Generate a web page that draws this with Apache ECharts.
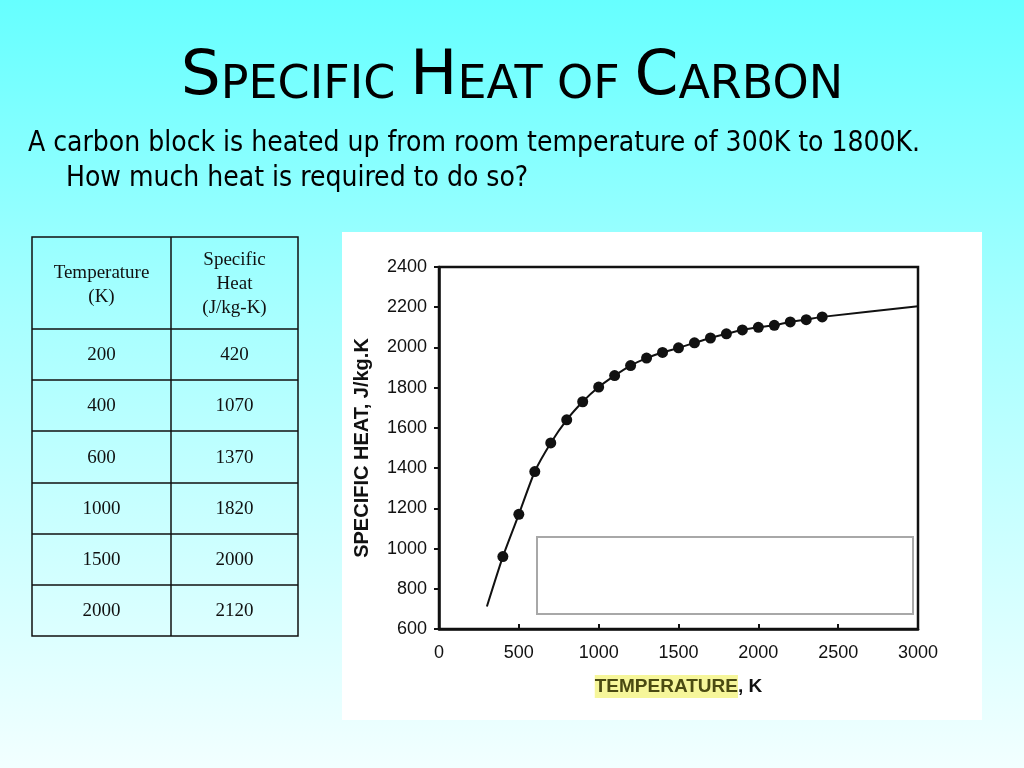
<!DOCTYPE html>
<html><head><meta charset="utf-8">
<script src="https://cdn.jsdelivr.net/npm/echarts@6/dist/echarts.min.js"></script>
<style>
html,body{margin:0;padding:0;}
#c{width:1024px;height:768px;background:linear-gradient(180deg,#66ffff 0%,#a6ffff 40%,#f2ffff 100%);}
</style></head>
<body><div id="c"></div>
<script>
// ---- data ----
var tableTemps = [200, 400, 600, 1000, 1500, 2000];
var tableHeats = [420, 1070, 1370, 1820, 2000, 2120];
var dotTemps = [400,500,600,700,800,900,1000,1100,1200,1300,1400,1500,1600,1700,1800,1900,2000,2100,2200,2300,2400];
var dotHeats = [960,1170,1383,1525,1640,1730,1803,1860,1910,1947,1975,1998,2023,2047,2068,2087,2100,2110,2127,2138,2152];
var curveStart = [300, 712];
var curveEnd = [3000, 2205];
var xTicks = [0, 500, 1000, 1500, 2000, 2500, 3000];
var yTicks = [600, 800, 1000, 1200, 1400, 1600, 1800, 2000, 2200, 2400];

var dots = dotTemps.map(function(t, i){ return [t, dotHeats[i]]; });
var curve = [curveStart].concat(dots).concat([curveEnd]);

// ---- table graphics ----
var colX = [32, 171, 298];
var rowY = [237, 329, 380, 431, 483, 534, 585, 636];
var tbl = [];
var serif = "'Liberation Serif','Times New Roman',serif";
var tf = '19px ' + serif;
tbl.push({type:'rect', shape:{x:colX[0], y:rowY[0], width:colX[2]-colX[0], height:rowY[rowY.length-1]-rowY[0]},
  style:{fill:'none', stroke:'#111', lineWidth:1.5}});
tbl.push({type:'line', shape:{x1:colX[1], y1:rowY[0], x2:colX[1], y2:rowY[rowY.length-1]}, style:{stroke:'#111', lineWidth:1.5}});
for (var r = 1; r < rowY.length-1; r++) {
  tbl.push({type:'line', shape:{x1:colX[0], y1:rowY[r], x2:colX[2], y2:rowY[r]}, style:{stroke:'#111', lineWidth:1.5}});
}
tbl.push({type:'text', x:(colX[0]+colX[1])/2, y:285,
  style:{text:'Temperature\n(K)', font:tf, fill:'#111', align:'center', verticalAlign:'middle', lineHeight:24}});
tbl.push({type:'text', x:(colX[1]+colX[2])/2, y:284,
  style:{text:'Specific\nHeat\n(J/kg-K)', font:tf, fill:'#111', align:'center', verticalAlign:'middle', lineHeight:24}});
for (var i = 0; i < tableTemps.length; i++) {
  var cy = (rowY[i+1] + rowY[i+2]) / 2 + 1;
  tbl.push({type:'text', x:(colX[0]+colX[1])/2, y:cy, style:{text:String(tableTemps[i]), font:tf, fill:'#111', align:'center', verticalAlign:'middle'}});
  tbl.push({type:'text', x:(colX[1]+colX[2])/2, y:cy, style:{text:String(tableHeats[i]), font:tf, fill:'#111', align:'center', verticalAlign:'middle'}});
}

var tfont = "'DejaVu Sans Condensed','DejaVu Sans',sans-serif";
var hfont = "'DejaVu Sans',sans-serif";
var chart = echarts.init(document.getElementById('c'), null, {renderer:'canvas'});
var sans = "'Liberation Sans',Arial,sans-serif";
function plain(v){ return String(v); }
chart.setOption({
  animation:false,
  backgroundColor:'transparent',
  title:{
    left:'center', top:41,
    text:'{b|S}{s|PECIFIC }{b|H}{s|EAT OF }{b|C}{s|ARBON}',
    textStyle:{fontWeight:'normal', rich:{
      b:{fontFamily:hfont, fontWeight:'normal', fontSize:63, color:'#000', verticalAlign:'bottom'},
      s:{fontFamily:hfont, fontWeight:'normal', fontSize:46, color:'#000', verticalAlign:'bottom'}
    }}
  },
  graphic:[
    {type:'rect', z:-10, shape:{x:342, y:232, width:640, height:488}, style:{fill:'#ffffff'}},
    {type:'text', left:28, top:130, style:{text:'A carbon block is heated up from room temperature of 300K to 1800K.', font:'28px '+tfont, fill:'#000'}},
    {type:'text', left:66, top:165, style:{text:'How much heat is required to do so?', font:'28px '+tfont, fill:'#000'}},
    {type:'group', children:tbl},
    {type:'rect', z:100, shape:{x:537, y:537, width:376, height:77}, style:{fill:'#ffffff', stroke:'#a8a8a8', lineWidth:2}}
  ],
  grid:{left:439, right:106, top:267, bottom:139, show:true, borderColor:'#111', borderWidth:2.5, backgroundColor:'transparent'},
  xAxis:{
    type:'value', min:0, max:3000, interval:500,
    axisLine:{show:true, lineStyle:{color:'#111', width:2.5}},
    axisTick:{show:true, inside:true, length:5, lineStyle:{color:'#111', width:2}},
    axisLabel:{color:'#111', fontFamily:sans, fontSize:18, margin:15, formatter:plain},
    splitLine:{show:false},
    name:'{h|TEMPERATURE}{k|, K}', nameLocation:'middle', nameGap:46,
    nameTextStyle:{rich:{
      h:{fontFamily:sans, fontWeight:'bold', fontSize:19, color:'#4a4a12', backgroundColor:'#f6f69a', padding:[2,0,2,0]},
      k:{fontFamily:sans, fontWeight:'bold', fontSize:19, color:'#111'}
    }}
  },
  yAxis:{
    type:'value', min:600, max:2400, interval:200,
    axisLine:{show:true, lineStyle:{color:'#111', width:2.5}},
    axisTick:{show:true, inside:false, length:5, lineStyle:{color:'#111', width:2}},
    axisLabel:{color:'#111', fontFamily:sans, fontSize:18, margin:12, formatter:plain},
    splitLine:{show:false},
    name:'SPECIFIC HEAT, J/kg.K', nameLocation:'middle', nameGap:67,
    nameTextStyle:{fontFamily:sans, fontWeight:'bold', fontSize:20, color:'#111'}
  },
  series:[
    {type:'line', data:curve, smooth:0.2, showSymbol:false, symbol:'none', lineStyle:{color:'#111', width:2}, z:2},
    {type:'scatter', data:dots, symbol:'circle', symbolSize:11, itemStyle:{color:'#111', opacity:1}, z:3}
  ]
});
</script></body></html>
